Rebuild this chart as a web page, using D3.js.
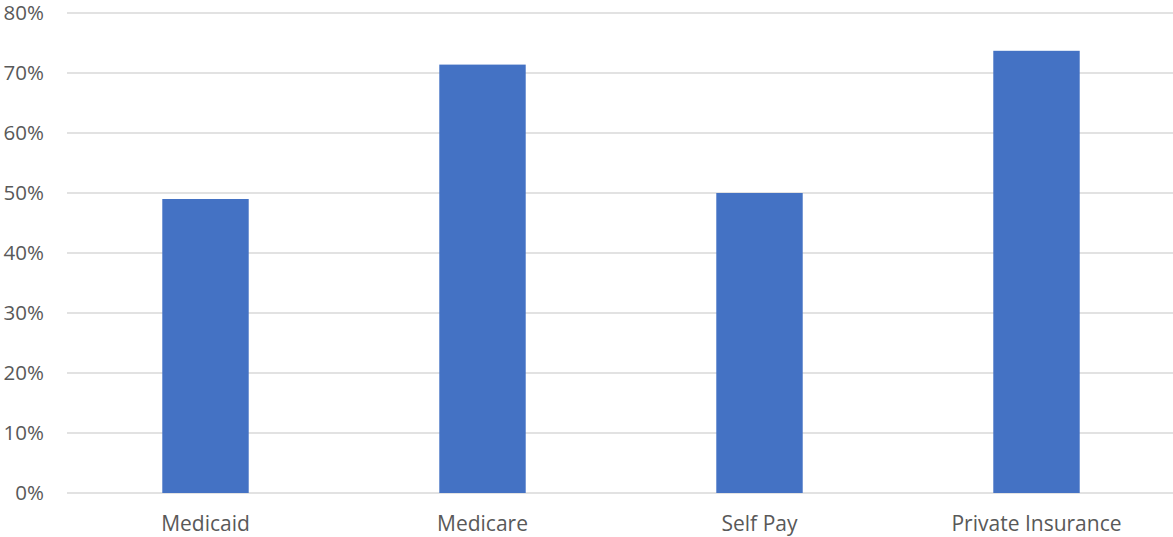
<!DOCTYPE html>
<meta charset="utf-8">
<title>Coverage</title>
<script src="https://cdn.jsdelivr.net/npm/d3@7"></script>
<style>
  body { margin: 0; background: #fff; }
  text { font-family: "Open Sans", Lato, sans-serif; fill: #595959; }
</style>
<div id="viz"></div>
<script>

var categories = ["Medicaid", "Medicare", "Self Pay", "Private Insurance"]
   ,values = [0.49, 0.714, 0.50, 0.737]
   ,ticks = [0, 0.1, 0.2, 0.3, 0.4, 0.5, 0.6, 0.7, 0.8];

var svg_w = 1173
   ,svg_h = 537;

var svg = d3.select("#viz").append("svg")
            .attr("width", svg_w)
            .attr("height", svg_h);

var x = d3.scaleBand()
    .domain(categories)
    .range([67, 1175])
    .paddingInner(0.688)
    .paddingOuter(0.344);

var y = d3.scaleLinear()
    .domain([0, 0.8])
    .range([493, 13]);

// gridlines
svg.selectAll(".grid")
  .data(ticks)
  .enter().append("line")
    .attr("x1", 67)
    .attr("x2", 1173)
    .attr("y1", function (d) { return y(d) })
    .attr("y2", function (d) { return y(d) })
    .attr("stroke", "#d9d9d9")
    .attr("stroke-width", 1.5);

// y labels
svg.selectAll(".ylab")
  .data(ticks)
  .enter().append("text")
    .attr("x", 44)
    .attr("y", function (d) { return y(d) })
    .attr("dy", "0.36em")
    .style("text-anchor", "end")
    .style("font-size", "20.5px")
    .text(d3.format(".0%"));

svg.selectAll(".bar")
  .data(values)
  .enter().append("rect")
    .attr("x", function (d, i) { return x(categories[i]) })
    .attr("width", x.bandwidth())
    .attr("y", function (d) { return y(d) })
    .attr("height", function (d) { return y(0) - y(d) })
    .attr("fill", "#4472c4");

svg.selectAll(".xlab")
  .data(categories)
  .enter().append("text")
    .attr("x", function (d) { return x(d) + x.bandwidth() / 2 })
    .attr("y", 531)
    .style("text-anchor", "middle")
    .style("font-size", "21px")
    .text(function (d) { return d });

</script>
